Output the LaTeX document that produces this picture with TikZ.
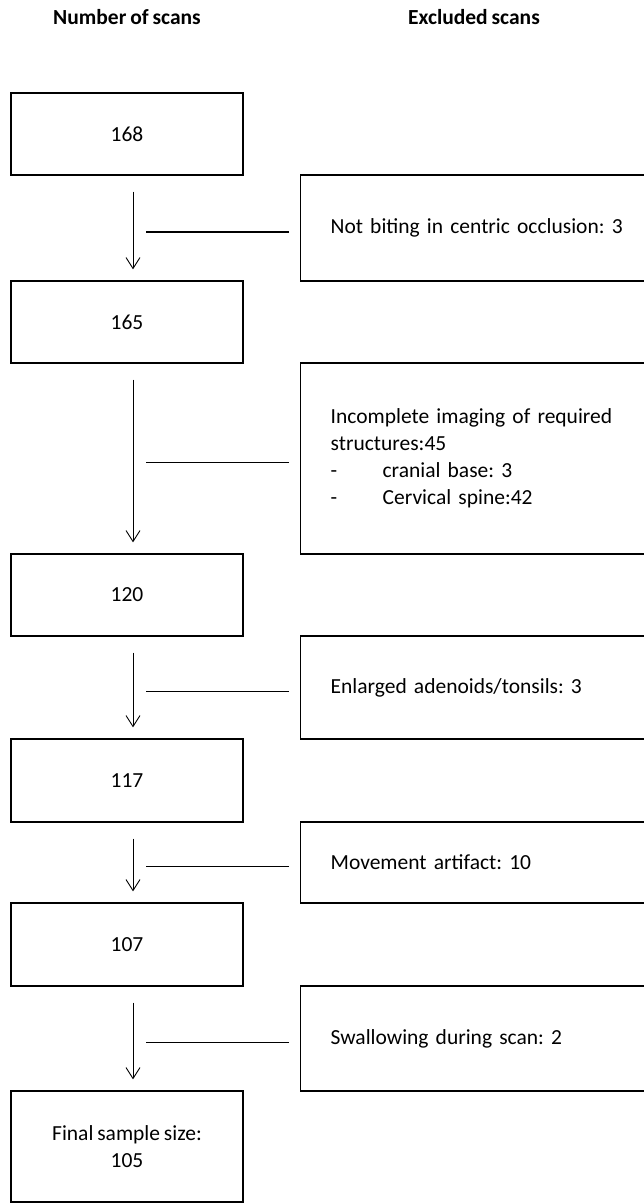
\documentclass[tikz,border=0pt]{standalone}
\usepackage{fontspec}
\setmainfont{Carlito}[WordSpace=0.8]
\usetikzlibrary{arrows.meta}
\frenchspacing
\begin{document}
\begin{tikzpicture}[x=1pt,y=-1pt,
  every node/.style={font=\fontsize{21.5}{27}\selectfont},
  leftbox/.style={draw, line width=1.3pt, minimum width=232pt, inner sep=0pt, align=center},
  rightbox/.style={draw, line width=1.3pt, text width=320pt, inner xsep=30pt, inner ysep=0pt, align=left, anchor=west},
  flowarrow/.style={line width=0.9pt, -{Straight Barb[length=11pt,width=14pt,line width=0.9pt]}},
  branch/.style={line width=1.3pt},
  header/.style={font=\fontsize{21.5}{25}\selectfont\bfseries}]
\useasboundingbox[fill=white] (0,0) rectangle (643,1204);
\node[header] (h1) at (127,17) {Number of scans};
\node[header] (h2) at (474,17) {Excluded scans};
\node[leftbox, minimum height=82pt] (b1) at (127,134) {168};
\node[leftbox, minimum height=82pt] (b2) at (127,322) {165};
\node[leftbox, minimum height=82pt] (b3) at (127,595) {120};
\node[leftbox, minimum height=83pt] (b4) at (127,780.5) {117};
\node[leftbox, minimum height=83pt] (b5) at (127,944.5) {107};
\node[leftbox, minimum height=111pt] (b6) at (127,1146.5) {Final sample size:\\105};
\node[rightbox, minimum height=106pt] (r1) at (300,228) {Not biting in centric occlusion: 3};
\node[rightbox, minimum height=191pt] (r2) at (300,458.5) {Incomplete imaging of required\\structures:45\\\makebox[52pt][l]{-}cranial base: 3\\\makebox[52pt][l]{-}Cervical spine:42};
\node[rightbox, minimum height=103pt] (r3) at (300,687.5) {Enlarged adenoids/tonsils: 3};
\node[rightbox, minimum height=81pt] (r4) at (300,862.5) {Movement artifact: 10};
\node[rightbox, minimum height=105pt] (r5) at (300,1038.5) {Swallowing during scan: 2};
\foreach \a/\b in {b1/b2,b2/b3,b3/b4,b4/b5,b5/b6}{
  \draw[flowarrow] ([xshift=6pt,yshift=-16pt]\a.south) -- ([xshift=6pt,yshift=11pt]\b.north);
}
\foreach \r in {r1,r2,r3,r4,r5}{
  \draw[branch] ([xshift=-11pt,yshift=-4pt]\r.west) -- ++(-143,0);
}
\end{tikzpicture}
\end{document}
